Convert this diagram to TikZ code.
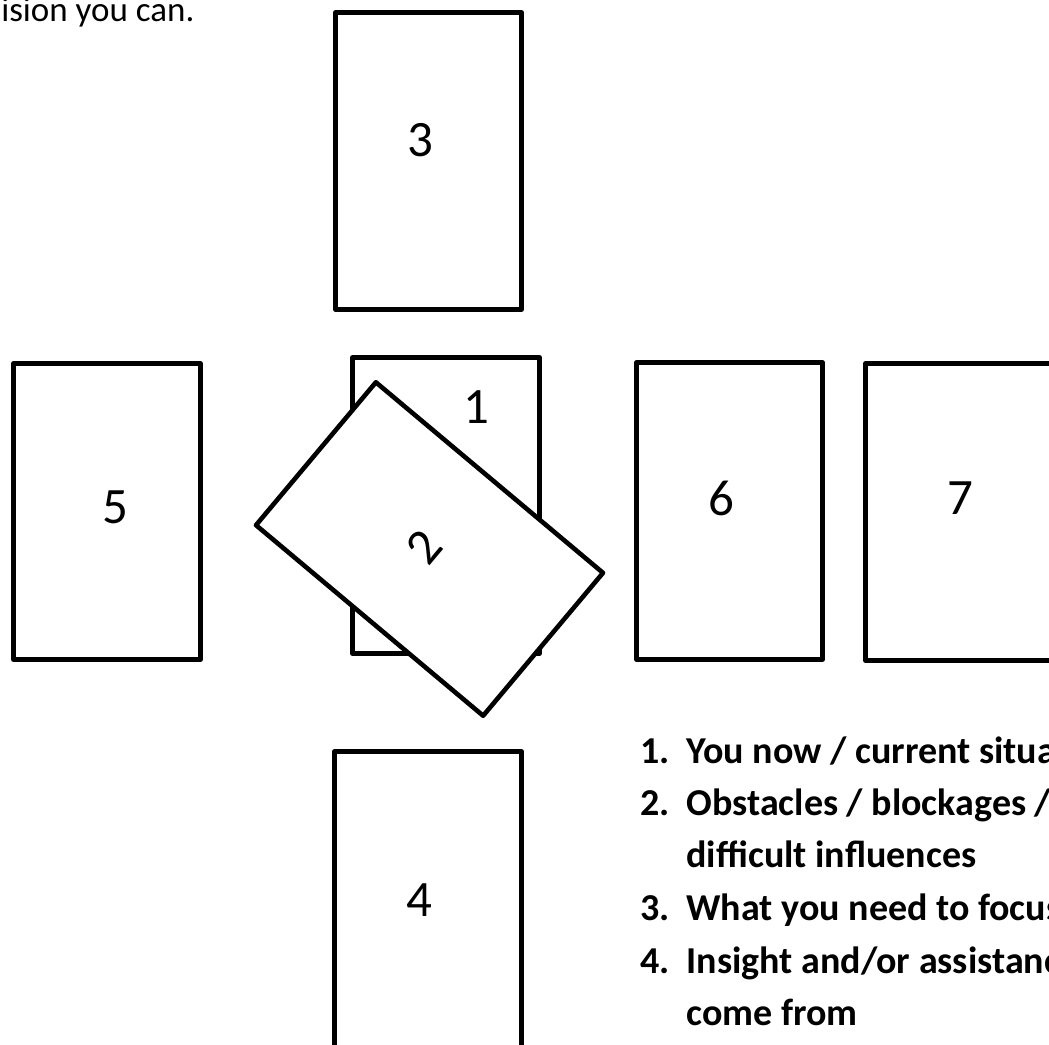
\documentclass[tikz,border=0pt]{standalone}
\usepackage{fontspec}
\setmainfont{Carlito}
\usepackage{tikz}

\begin{document}
\begin{tikzpicture}[x=1pt, y=-1pt,
	card/.style={draw, line width=4.6pt, line join=round, fill=white, minimum width=186.5pt, minimum height=296.5pt, inner sep=0pt},
	num/.style={font=\fontsize{51}{53}\selectfont},
	item/.style={font=\fontsize{38}{40}\selectfont\bfseries, anchor=base west}]
	\useasboundingbox (0,0) rectangle (1049,1044);
	\clip (0,0) rectangle (1049,1044);
	\node[anchor=base east, font=\fontsize{35}{37}\selectfont] (cap) at (198,21) {ision you can.};
	% cards laid out in a cross, plus the two on the right
	\foreach \n/\x/\y in {3/428.5/161, 5/107/511.5, 1/446/505.5, 6/729.5/511, 7/958.5/512, 4/428/899.5}
		\node[card] (c\n) at (\x,\y) {};
	\foreach \n/\x/\y in {3/420/140, 5/115.5/507.5, 1/476/407.5, 6/721/498, 7/960/498, 4/419/900}
		\node[num] (n\n) at (\x,\y) {\n};
	% the crossing card
	\node[card, rotate=50] (c2) at (429.5,549) {};
	\node[num, rotate=50] (n2) at (424,547) {2};
	% the key
	\foreach \k/\y in {1/763, 2/815, 3/920, 4/973}
		\node[item] (k\k) at (637,\y) {\k.};
	\node[item] (t1) at (683,763) {You now / current situa};
	\node[item] (t2) at (683,815) {Obstacles / blockages /};
	\node[item] (t3) at (683,867) {difficult influences};
	\node[item] (t4) at (683,920) {What you need to focus};
	\node[item] (t5) at (683,973) {Insight and/or assistanc};
	\node[item] (t6) at (683,1025) {come from};
\end{tikzpicture}
\end{document}
